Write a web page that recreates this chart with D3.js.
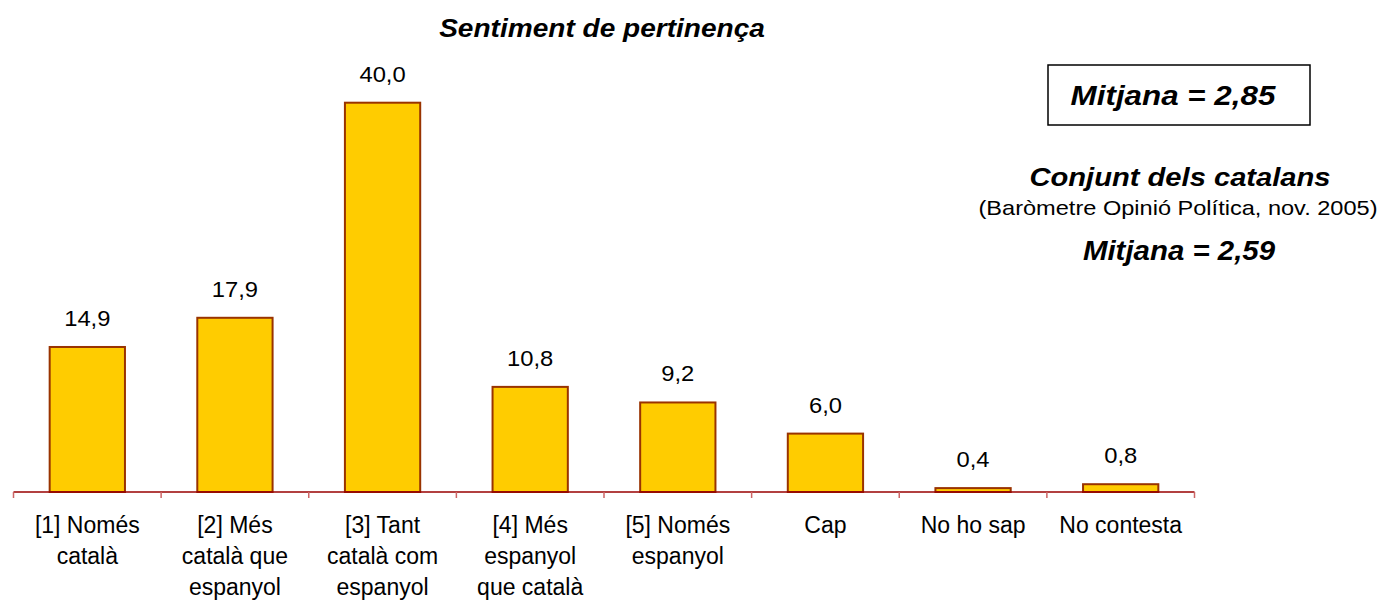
<!DOCTYPE html>
<html><head><meta charset="utf-8">
<script src="https://cdn.jsdelivr.net/npm/d3@7"></script>
<style>body{margin:0;background:#fff;}svg{display:block;font-family:"Liberation Sans",Arial,sans-serif;}</style>
</head><body>
<svg id="c" width="1385" height="604"></svg>
<script>
const categories = [
  ["[1] Només","català"],
  ["[2] Més","català que","espanyol"],
  ["[3] Tant","català com","espanyol"],
  ["[4] Més","espanyol","que català"],
  ["[5] Només","espanyol"],
  ["Cap"],
  ["No ho sap"],
  ["No contesta"]
];
const values = [14.9, 17.9, 40.0, 10.8, 9.2, 6.0, 0.4, 0.8];
const title = "Sentiment de pertinença";
const boxText = "Mitjana = 2,85";
const sideLines = ["Conjunt dels catalans", "(Baròmetre Opinió Política, nov. 2005)", "Mitjana = 2,59"];

const svg = d3.select("#c");
const left = 13.5, right = 1194.5, base = 492;
const keys = categories.map((c,i)=>i);
const x = d3.scaleBand().domain(keys).range([left,right]).paddingInner(0.49).paddingOuter(0.245);
const y = d3.scaleLinear().domain([0,40]).range([base,102.7]);

// bars
svg.selectAll("rect.bar").data(values).join("rect").attr("class","bar")
  .attr("x",(d,i)=>x(i)).attr("width",x.bandwidth())
  .attr("y",d=>y(d)).attr("height",d=>base-y(d))
  .attr("fill","#FFCC00").attr("stroke","#993300").attr("stroke-width",2);

// axis line
const step = x.step();
svg.append("line").attr("x1",left).attr("x2",right).attr("y1",base).attr("y2",base)
  .attr("stroke","#990000").attr("stroke-width",1.5);
const bounds = keys.map(i=>x(i)-step*x.paddingInner()/2).concat([right]);
svg.selectAll("line.tick").data(bounds).join("line").attr("class","tick")
  .attr("x1",d=>d).attr("x2",d=>d).attr("y1",base).attr("y2",base+6)
  .attr("stroke","#cc6666").attr("stroke-width",1.5);

function stext(cx, by, size, sx, txt, bold){
  const t = svg.append("text").attr("transform",`translate(${cx},${by}) scale(${sx},1)`)
    .attr("text-anchor","middle").attr("font-size",size).attr("fill","#000").text(txt);
  if(bold){ t.attr("font-weight","bold").attr("font-style","italic"); }
  return t;
}

// value labels
values.forEach((d,i)=>{
  stext(x(i)+x.bandwidth()/2, y(d)-21, 22, 1.08, d3.format(".1f")(d).replace(".",","), false);
});

// category labels
const cl = svg.selectAll("text.cat").data(categories).join("text").attr("class","cat")
  .attr("text-anchor","middle").attr("font-size",23).attr("fill","#000");
cl.selectAll("tspan").data((d,i)=>d.map(t=>({t,i}))).join("tspan")
  .attr("x",d=>x(d.i)+x.bandwidth()/2).attr("y",(d,j)=>533+j*31).text(d=>d.t);

// title
stext(602, 37, 25.5, 1.1, title, true);

// box
svg.append("rect").attr("x",1048).attr("y",65).attr("width",262).attr("height",60)
  .attr("fill","none").attr("stroke","#000").attr("stroke-width",1.5);
stext(1173, 105, 28, 1.12, boxText, true);

stext(1180, 186, 26.5, 1.1, sideLines[0], true);
stext(1178, 215, 20.5, 1.15, sideLines[1], false);
stext(1179, 260, 27, 1.09, sideLines[2], true);
</script>
</body></html>
